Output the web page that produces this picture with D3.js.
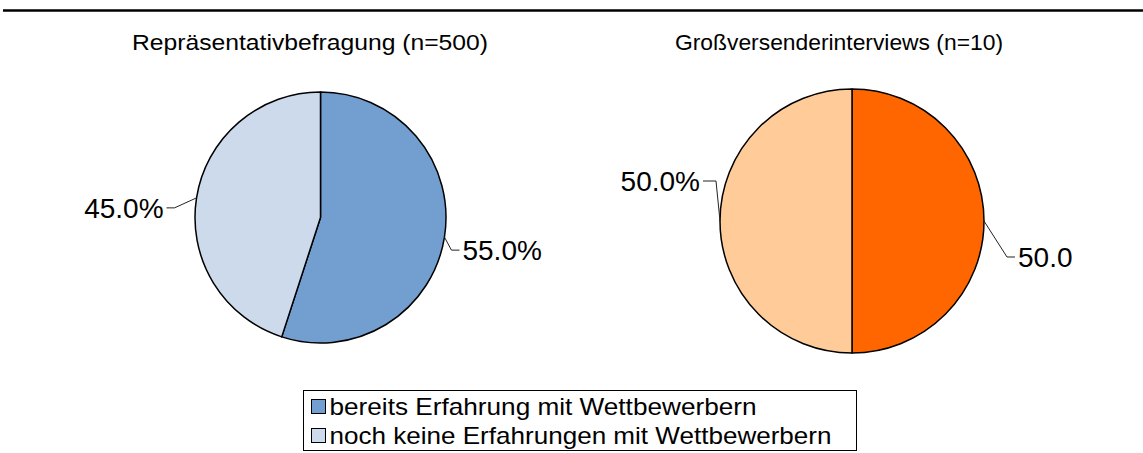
<!doctype html>
<html lang="en">
<head>
    <meta charset="utf-8">
    <title>Erfahrung mit Wettbewerbern</title>
    <script src="https://cdnjs.cloudflare.com/ajax/libs/d3/7.8.5/d3.min.js" type="text/JavaScript"></script>
    <style>
        body { margin: 0; background: #fff; }
        text { font-family: "Liberation Sans", Arial, sans-serif; fill: #000; }
    </style>
</head>
<body>
<script>

    // Data
    const categories = ["bereits Erfahrung mit Wettbewerbern", "noch keine Erfahrungen mit Wettbewerbern"];
    const titles = ["Repräsentativbefragung (n=500)", "Großversenderinterviews (n=10)"];
    const valuesBefragung = [55.0, 45.0];
    const valuesInterviews = [50.0, 50.0];
    const labelsBefragung = ["55.0%", "45.0%"];
    const labelsInterviews = ["50.0", "50.0%"];

    const colorsBefragung = ["#729fcf", "#cddaeb"];
    const colorsInterviews = ["#ff6600", "#ffcc99"];

    const width = 1143, height = 453;

    const svg = d3.select("body").append("svg")
        .attr("width", width)
        .attr("height", height);

    // thick rule on top
    svg.append("line")
        .attr("x1", 3).attr("x2", width)
        .attr("y1", 10.5).attr("y2", 10.5)
        .attr("stroke", "#000")
        .attr("stroke-width", 2.5);

    // one entry per pie: where it sits and how its leader lines bend
    const pies = [
        {
            title: titles[0], titleX: 310, titleLen: 356, values: valuesBefragung, labels: labelsBefragung,
            colors: colorsBefragung, cx: 320.5, cy: 217.5, r: 125.5,
            // elbow offset and label position relative to the edge point
            leaders: [
                {elbow: [7, 13], end: [15, 13], anchor: "start"},
                {elbow: [-22, 10], end: [-30, 10], anchor: "end"}
            ]
        },
        {
            title: titles[1], titleX: 839, titleLen: 328, values: valuesInterviews, labels: labelsInterviews,
            colors: colorsInterviews, cx: 852, cy: 221, r: 132,
            leaders: [
                {elbow: [23, 36], end: [31, 36], anchor: "start"},
                {elbow: [-4, -40], end: [-17, -40], anchor: "end"}
            ]
        }
    ];

    const pie = d3.pie().sort(null).value(d => d);

    pies.forEach(p => {
        svg.append("text")
            .attr("x", p.titleX)
            .attr("y", 50)
            .attr("text-anchor", "middle")
            .attr("font-size", 22)
            .attr("textLength", p.titleLen)
            .attr("lengthAdjust", "spacingAndGlyphs")
            .text(p.title);

        const arc = d3.arc().innerRadius(0).outerRadius(p.r);
        const g = svg.append("g").attr("transform", `translate(${p.cx},${p.cy})`);
        const arcs = pie(p.values);

        g.selectAll("path")
            .data(arcs)
            .join("path")
            .attr("d", arc)
            .attr("fill", (d, i) => p.colors[i])
            .attr("stroke", "#000")
            .attr("stroke-width", 1.5)
            .attr("stroke-linejoin", "round");

        arcs.forEach((d, i) => {
            const mid = (d.startAngle + d.endAngle) / 2;
            const ex = p.r * Math.sin(mid), ey = -p.r * Math.cos(mid);
            const lead = p.leaders[i];
            g.append("polyline")
                .attr("points", [[ex, ey], [ex + lead.elbow[0], ey + lead.elbow[1]], [ex + lead.end[0], ey + lead.end[1]]].join(" "))
                .attr("fill", "none")
                .attr("stroke", "#222")
                .attr("stroke-width", 1);
            g.append("text")
                .attr("x", ex + lead.end[0] + (lead.anchor === "start" ? 3 : -3))
                .attr("y", ey + lead.end[1])
                .attr("dy", "0.36em")
                .attr("text-anchor", lead.anchor)
                .attr("font-size", 28)
                .text(p.labels[i]);
        });
    });

    // legend
    const legendLen = [427, 502];
    const legend = svg.append("g").attr("transform", "translate(303.5,390.5)");
    legend.append("rect")
        .attr("width", 553)
        .attr("height", 60)
        .attr("fill", "#fff")
        .attr("stroke", "#000")
        .attr("stroke-width", 1);

    const item = legend.selectAll("g.item")
        .data(categories)
        .join("g")
        .attr("class", "item")
        .attr("transform", (d, i) => `translate(8,${16 + i * 29})`);

    item.append("rect")
        .attr("x", 0).attr("y", -7)
        .attr("width", 14).attr("height", 14)
        .attr("fill", (d, i) => colorsBefragung[i])
        .attr("stroke", "#000")
        .attr("stroke-width", 1);

    item.append("text")
        .attr("x", 18)
        .attr("y", 0)
        .attr("dy", "0.36em")
        .attr("font-size", 24)
        .attr("textLength", (d, i) => legendLen[i])
        .attr("lengthAdjust", "spacingAndGlyphs")
        .text(d => d);

</script>
</body>
</html>
